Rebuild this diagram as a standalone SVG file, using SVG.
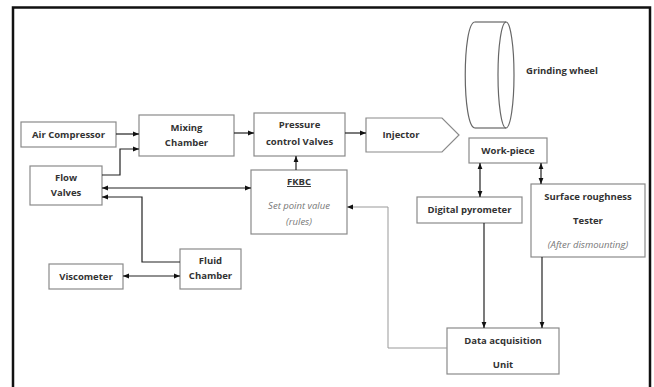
<svg xmlns="http://www.w3.org/2000/svg" width="654" height="387" viewBox="0 0 654 387">
<defs>
<marker id="ah" viewBox="0 0 10 10" refX="10" refY="5" markerWidth="6" markerHeight="6" orient="auto-start-reverse" markerUnits="userSpaceOnUse">
<path d="M0,1 L10,5 L0,9 z" fill="#111"/>
</marker>
</defs>
<style>
.box{fill:#fff;stroke:#8a8a8a;stroke-width:1.2}
.t{font-family:"Open Sans","DejaVu Sans",sans-serif;font-weight:bold;font-size:9.5px;fill:#333;text-anchor:middle}
.i{font-family:"Open Sans","DejaVu Sans",sans-serif;font-style:italic;font-size:9.5px;fill:#777;text-anchor:middle}
.c{fill:none;stroke:#222;stroke-width:1.2}
.c2{fill:none;stroke:#999;stroke-width:1}
</style>
<rect width="654" height="387" fill="#fff"/>
<path d="M13,390 L13,7.5 L650,7.5 L650,390" fill="none" stroke="#111" stroke-width="2.5"/>

<g id="grinding-wheel">
<path d="M475,22 C462,22 462,128 475,128" fill="none" stroke="#666" stroke-width="1.2"/>
<line x1="475" y1="22" x2="506" y2="22" stroke="#666" stroke-width="1.2"/>
<line x1="475" y1="128" x2="506" y2="128" stroke="#666" stroke-width="1.2"/>
<ellipse cx="506" cy="75" rx="8" ry="53" fill="none" stroke="#666" stroke-width="1.2"/>
<text class="t" x="526" y="74" style="text-anchor:start">Grinding wheel</text>
</g>

<g id="air-compressor">
<rect class="box" x="21" y="122" width="95" height="25"/>
<text class="t" x="68.5" y="138">Air Compressor</text>
</g>
<g id="mixing-chamber">
<rect class="box" x="139" y="115" width="95" height="41"/>
<text class="t" x="186.5" y="131">Mixing</text>
<text class="t" x="186.5" y="146">Chamber</text>
</g>
<g id="flow-valves">
<rect class="box" x="30" y="166" width="72" height="39"/>
<text class="t" x="66" y="181">Flow</text>
<text class="t" x="66" y="196">Valves</text>
</g>
<g id="viscometer">
<rect class="box" x="49" y="264" width="74" height="25"/>
<text class="t" x="86" y="280">Viscometer</text>
</g>
<g id="fluid-chamber">
<rect class="box" x="180" y="249" width="61" height="40"/>
<text class="t" x="210.5" y="264">Fluid</text>
<text class="t" x="210.5" y="279">Chamber</text>
</g>
<g id="pressure-control-valves">
<rect class="box" x="254" y="113" width="91" height="43"/>
<text class="t" x="299.5" y="128">Pressure</text>
<text class="t" x="299.5" y="145">control Valves</text>
</g>
<g id="injector">
<path class="box" d="M366,118 L442,118 L459,135 L442,152 L366,152 Z"/>
<text class="t" x="401" y="138">Injector</text>
</g>
<g id="fkbc">
<rect class="box" x="251" y="170" width="96" height="64"/>
<text class="t" x="299" y="185" style="text-decoration:underline">FKBC</text>
<text class="i" x="299" y="209">Set point value</text>
<text class="i" x="299" y="225">(rules)</text>
</g>
<g id="work-piece">
<rect class="box" x="469" y="138" width="78" height="25"/>
<text class="t" x="508" y="154">Work-piece</text>
</g>
<g id="digital-pyrometer">
<rect class="box" x="417" y="197" width="105" height="26"/>
<text class="t" x="469.5" y="213">Digital pyrometer</text>
</g>
<g id="surface-roughness-tester">
<rect class="box" x="531" y="184" width="114" height="73"/>
<text class="t" x="588" y="200">Surface roughness</text>
<text class="t" x="588" y="224">Tester</text>
<text class="i" x="588" y="248">(After dismounting)</text>
</g>
<g id="data-acquisition-unit">
<rect class="box" x="447" y="328" width="112" height="46"/>
<text class="t" x="503" y="344">Data acquisition</text>
<text class="t" x="503" y="368">Unit</text>
</g>

<g id="connectors">
<line class="c" x1="116" y1="134" x2="139" y2="134" marker-end="url(#ah)"/>
<path class="c" d="M102,175 L120,175 L120,149 L139,149" marker-end="url(#ah)"/>
<line class="c" x1="234" y1="133" x2="254" y2="133" marker-end="url(#ah)"/>
<line class="c" x1="345" y1="133" x2="366" y2="133" marker-end="url(#ah)"/>
<line class="c" x1="296" y1="170" x2="296" y2="156" marker-end="url(#ah)"/>
<line class="c" x1="102" y1="188" x2="251" y2="188" marker-start="url(#ah)" marker-end="url(#ah)"/>
<path class="c" d="M180,262 L142,262 L142,197 L102,197" marker-end="url(#ah)"/>
<line class="c" x1="123" y1="276" x2="180" y2="276" marker-start="url(#ah)" marker-end="url(#ah)"/>
<line class="c" x1="480" y1="163" x2="480" y2="197" marker-start="url(#ah)" marker-end="url(#ah)"/>
<line class="c" x1="541" y1="163" x2="541" y2="184" marker-start="url(#ah)" marker-end="url(#ah)"/>
<line class="c" x1="484" y1="223" x2="484" y2="328" marker-end="url(#ah)"/>
<line class="c" x1="542" y1="257" x2="542" y2="328" marker-end="url(#ah)"/>
<path class="c2" d="M447,348 L388,348 L388,207 L347,207" marker-end="url(#ah)"/>
</g>
</svg>
